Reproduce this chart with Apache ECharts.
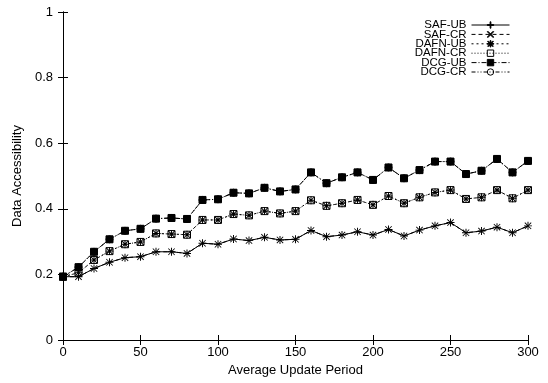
<!DOCTYPE html>
<html>
<head>
<meta charset="utf-8">
<script src="https://cdn.jsdelivr.net/npm/echarts@6/dist/echarts.min.js"></script>
<style>html,body{margin:0;padding:0;background:#fff;}#c{width:548px;height:383px;}</style>
</head>
<body>
<div id="c"></div>
<script>
var periods = [0,10,20,30,40,50,60,70,80,90,100,110,120,130,140,150,160,170,180,190,200,210,220,230,240,250,260,270,280,290,300];
var safUB  = [0.193,0.193,0.218,0.237,0.251,0.254,0.269,0.269,0.264,0.295,0.292,0.308,0.303,0.313,0.305,0.307,0.334,0.315,0.320,0.330,0.320,0.337,0.317,0.335,0.348,0.358,0.327,0.332,0.344,0.327,0.348];
var safCR  = [0.193,0.193,0.218,0.237,0.251,0.254,0.269,0.269,0.264,0.295,0.292,0.308,0.303,0.313,0.305,0.307,0.334,0.315,0.320,0.330,0.320,0.337,0.317,0.335,0.348,0.358,0.327,0.332,0.344,0.327,0.348];
var dafnUB = [0.193,0.205,0.244,0.271,0.292,0.299,0.325,0.323,0.321,0.366,0.366,0.384,0.380,0.393,0.386,0.393,0.426,0.409,0.417,0.427,0.412,0.439,0.417,0.435,0.450,0.457,0.430,0.435,0.457,0.432,0.457];
var dafnCR = [0.193,0.205,0.244,0.271,0.292,0.299,0.325,0.323,0.321,0.366,0.366,0.384,0.380,0.393,0.386,0.393,0.426,0.409,0.417,0.427,0.412,0.439,0.417,0.435,0.450,0.457,0.430,0.435,0.457,0.432,0.457];
var dcgUB  = [0.193,0.222,0.269,0.307,0.333,0.339,0.370,0.372,0.369,0.427,0.429,0.449,0.447,0.464,0.453,0.459,0.511,0.478,0.496,0.511,0.488,0.526,0.493,0.518,0.544,0.544,0.506,0.516,0.552,0.511,0.546];
var dcgCR  = [0.193,0.222,0.269,0.307,0.333,0.339,0.370,0.372,0.369,0.427,0.429,0.449,0.447,0.464,0.453,0.459,0.511,0.478,0.496,0.511,0.488,0.526,0.493,0.518,0.544,0.544,0.506,0.516,0.552,0.511,0.546];
var seriesNames = ['SAF-UB','SAF-CR','DAFN-UB','DAFN-CR','DCG-UB','DCG-CR'];
var xTicks = [0,50,100,150,200,250,300];
var yTicks = [0,0.2,0.4,0.6,0.8,1];

function pairs(vals){ return periods.map(function(p,i){ return [p, vals[i]]; }); }

var PLUS = 'path://M4.4,0h1.2v10h-1.2z M0,4.4h10v1.2h-10z';
var CROSS = 'path://M0,0.85L0.85,0L10,9.15L9.15,10Z M9.15,0L10,0.85L0.85,10L0,9.15Z';
var STAR = 'path://M4.4,0h1.2v10h-1.2z M0,4.4h10v1.2h-10z M0.5,1.35L1.35,0.5L9.5,8.65L8.65,9.5Z M8.65,0.5L9.5,1.35L1.35,9.5L0.5,8.65Z';

function mk(name, vals, symbol, size, fill, border, dash){
  return {
    name: name, type: 'line', data: pairs(vals),
    symbol: symbol, symbolSize: size, showSymbol: true,
    lineStyle: { color: '#000', width: 1, type: dash },
    itemStyle: { color: fill, borderColor: border ? '#000' : fill, borderWidth: border ? 1 : 0 },
    emphasis: { disabled: true },
    z: 2
  };
}

var chart = echarts.init(document.getElementById('c'), null, {renderer: 'canvas'});
var axisCommon = {
  axisLine: { show: true, lineStyle: { color: '#000', width: 1 } },
  axisTick: { show: true, inside: true, length: 5, lineStyle: { color: '#000' } },
  splitLine: { show: false }
};
chart.setOption({
  animation: false,
  backgroundColor: '#fff',
  textStyle: { fontFamily: 'Liberation Sans, Arial, sans-serif', color: '#000' },
  grid: { left: 63, right: 20, top: 12, bottom: 43, containLabel: false },
  legend: {
    orient: 'vertical', right: 38, top: 19, align: 'right', padding: 0,
    itemWidth: 38, itemHeight: 8, itemGap: -2.6,
    lineStyle: { width: 1 },
    itemStyle: { borderWidth: 1 },
    textStyle: { fontSize: 11.5, color: '#000', fontFamily: 'Liberation Sans, Arial, sans-serif' },
    data: seriesNames,
    selectedMode: false
  },
  xAxis: [
    Object.assign({ type: 'value', min: 0, max: 300, interval: 50, position: 'bottom',
      name: 'Average Update Period', nameLocation: 'middle', nameGap: 23,
      nameTextStyle: { fontSize: 13, color: '#000' },
      axisLabel: { fontSize: 13, color: '#000', margin: 6, formatter: function(v){ return xTicks.indexOf(v) >= 0 ? String(v) : ''; } } }, axisCommon),
    Object.assign({ type: 'value', min: 0, max: 300, interval: 50, position: 'top',
      axisLabel: { show: false } }, axisCommon)
  ],
  yAxis: [
    Object.assign({ type: 'value', min: 0, max: 1, interval: 0.2, position: 'left',
      name: 'Data Accessibility', nameLocation: 'middle', nameGap: 38,
      nameTextStyle: { fontSize: 13, color: '#000' },
      axisLabel: { fontSize: 13, color: '#000', margin: 10, formatter: function(v){ var r = Math.round(v*10)/10; return yTicks.indexOf(r) >= 0 ? String(r) : ''; } } }, axisCommon),
    Object.assign({ type: 'value', min: 0, max: 1, interval: 0.2, position: 'right',
      axisLabel: { show: false } }, axisCommon)
  ],
  series: [
    mk('SAF-UB', safUB, PLUS, 8, '#000', false, 'solid'),
    mk('SAF-CR', safCR, CROSS, 7, '#000', false, [4,3]),
    mk('DAFN-UB', dafnUB, STAR, 8, '#000', false, [2,3]),
    mk('DAFN-CR', dafnCR, 'rect', 7, 'rgba(255,255,255,0)', true, [1,2]),
    mk('DCG-UB', dcgUB, 'rect', 7, '#000', true, [5,2,1,2]),
    mk('DCG-CR', dcgCR, 'circle', 7, 'rgba(255,255,255,0)', true, [4,2,1,2,1,2])
  ]
});
</script>
</body>
</html>
